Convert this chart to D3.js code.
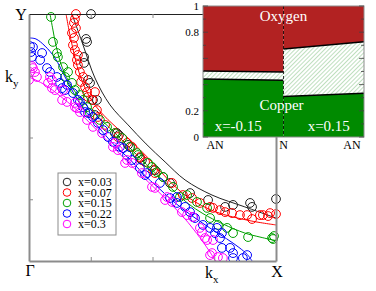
<!DOCTYPE html>
<html>
<head>
<meta charset="utf-8">
<script src="https://cdn.jsdelivr.net/npm/d3@7"></script>
<style>
  body { margin: 0; background: #fff; }
  svg { display: block; font-family: "Liberation Serif", "Times New Roman", serif; }
</style>
</head>
<body>
<svg id="chart" width="376" height="291"></svg>
<script>
// ---------- Data (k in units of pi, Gamma = 0, X / Y = 1) ----------
const dopings = ['x=0.03', 'x=0.07', 'x=0.15', 'x=0.22', 'x=0.3'];
const colors = ['#222222', '#ff0000', '#00a000', '#0000ff', '#ff00ff'];

// fitted Fermi surface lines
const fit003 = [[.174,1.0],[.219,.874],[.267,.741],[.328,.632],[.401,.551],[.474,.474],
  [.551,.401],[.632,.328],[.741,.267],[.874,.219],[1.0,.174]];
const fit007 = [[.150,1.0],[.170,.895],[.206,.753],[.255,.648],[.32,.572],[.385,.513],[.45,.45],
  [.513,.385],[.572,.32],[.648,.255],[.753,.200],[.895,.163],[1.0,.146]];
const fit015 = [[.085,1.0],[.097,.935],[.109,.874],[.134,.785],[.174,.704],[.219,.645],[.267,.596],[.348,.518],[.433,.433],
  [.518,.350],[.596,.275],[.645,.232],[.704,.192],[.785,.150],[.874,.113],[.935,.097],[1.0,.082]];
const fit022 = [[0,.903],[.028,.899],[.065,.870],[.105,.822],[.146,.745],[.198,.650],[.25,.58],[.30,.52],[.35,.465],[.41,.41],
  [.465,.35],[.52,.30],[.58,.245],[.650,.19],[.73,.135],[.80,.09],[.85,.055],[.885,.025],[.903,0]];
const fit030 = [[0,.745],[.065,.713],[.126,.668],[.186,.618],[.25,.555],[.32,.483],[.40,.40],[.483,.32],[.555,.25],[.618,.186],
  [.668,.126],[.713,.065],[.74,.025],[.755,0]];

// measured Fermi momenta
const pts003 = [[.251,1.0],[.231,.899],[.235,.887],[.223,.826],[.223,.802],[.239,.733],[.247,.721],[.259,.652],[.275,.652],[.267,.591],
  [.356,.518],[.364,.510],[.401,.470],[.409,.462],[.449,.417],[.457,.409],[.510,.368],[.543,.340],[.571,.316],[.652,.275],
  [.725,.247],[.794,.219],[.826,.227],[.895,.235],[.903,.219],[1.0,.251]];
const pts007 = [[.190,1.0],[.186,.980],[.182,.964],[.190,.943],[.174,.923],[.182,.903],[.178,.874],[.186,.854],[.198,.834],[.194,.814],
  [.198,.794],[.206,.765],[.219,.745],[.211,.725],[.227,.704],[.235,.684],[.239,.664],[.255,.652],[.267,.684],[.275,.611],
  [.279,.583],[.308,.551],[.348,.518],[.360,.502],[.397,.478],[.417,.462],[.449,.421],[.470,.401],[.502,.368],[.510,.356],
  [.579,.316],[.623,.267],[.660,.255],[.692,.235],[.733,.219],[.745,.215],[.773,.206],[.794,.198],[.822,.194],[.854,.186],
  [.883,.186],[.903,.170],[.935,.186],[.947,.186],[.968,.182],[.976,.194],[1.0,.190]];
const pts015 = [[.089,.988],[.097,.887],[.113,.842],[.117,.826],[.138,.785],[.158,.765],[.146,.745],[.174,.721],[.186,.692],[.206,.672],
  [.219,.652],[.235,.623],[.247,.599],[.287,.571],[.316,.543],[.348,.518],[.377,.498],[.409,.462],[.437,.437],[.441,.429],
  [.482,.397],[.498,.381],[.518,.360],[.543,.340],[.583,.300],[.611,.259],[.640,.267],[.680,.239],[.721,.215],[.733,.174],
  [.765,.146],[.802,.134],[.826,.113],[.887,.097],[.984,.093],[.992,.101],[.988,.089]];
const pts022 = [[.004,.870],[.016,.866],[.008,.846],[.012,.826],[.053,.842],[.045,.814],[.073,.781],[.085,.765],[.113,.745],[.126,.721],
  [.134,.700],[.146,.692],[.154,.713],[.178,.680],[.198,.652],[.206,.644],[.219,.623],[.227,.603],[.239,.599],[.259,.583],
  [.279,.559],[.300,.530],[.320,.502],[.340,.482],[.368,.462],[.381,.457],[.397,.429],[.417,.409],[.449,.377],[.470,.348],
  [.478,.356],[.530,.316],[.571,.255],[.599,.259],[.599,.235],[.632,.219],[.652,.198],[.664,.178],[.672,.174],[.704,.146],
  [.733,.134],[.753,.113],[.761,.134],[.773,.093],[.781,.113],[.781,.053],[.814,.053],[.826,.032],[.826,.012],[.866,.012],[.883,.024]];
const pts030 = [[.012,.789],[.016,.781],[.004,.765],[.024,.765],[.032,.745],[0,.733],[.085,.745],[.093,.733],[.077,.721],[.093,.700],
  [.105,.692],[.138,.692],[.134,.652],[.154,.644],[.186,.640],[.186,.623],[.194,.619],[.206,.603],[.235,.571],[.259,.543],
  [.296,.518],[.348,.478],[.340,.462],[.360,.449],[.397,.409],[.417,.397],[.389,.397],[.457,.356],[.498,.300],[.510,.296],
  [.551,.247],[.559,.259],[.579,.239],[.619,.198],[.640,.186],[.664,.178],[.692,.134],[.700,.117],[.713,.093],[.721,.085],
  [.745,.085],[.741,.032],[.733,.024],[.765,.016],[.785,.012]];

const fits = [fit003, fit007, fit015, fit022, fit030];
const points = [pts003, pts007, pts015, pts022, pts030];

// inset: orbital weight along AN - N - AN (position 0 = AN, 1 = N, 2 = AN)
const insetSides = ['x=-0.15', 'x=0.15'];
const insetPos = [[0, 1], [1, 2]];
const oxygenLow = [[.504, .496], [.672, .727]];   // lower edge of oxygen weight
const copperTop = [[.443, .433], [.310, .334]];   // upper edge of copper weight
const insetYLabels = [0, 0.2, 0.8, 1];
const insetXTicks = [[0.15, 'AN'], [1.0, 'N'], [1.85, 'AN']];

// ---------- Main panel ----------
const svg = d3.select('#chart');
const x = d3.scaleLinear([0, 1], [29, 276]);
const y = d3.scaleLinear([0, 1], [261, 14]);
const gray = '#8c8c8c';

const main = svg.append('g');

// clip to plot area (a little slack so edge circles stay round)
svg.append('defs').append('clipPath').attr('id', 'plotclip')
  .append('rect').attr('x', x(0)).attr('y', y(1) - 8).attr('width', x(1) - x(0) + 6).attr('height', y(0) - y(1) + 8);

const line = d3.line().x(d => x(d[0])).y(d => y(d[1])).curve(d3.curveCatmullRom.alpha(0.5));

const series = main.append('g').attr('clip-path', 'url(#plotclip)');
fits.forEach((f, i) => {
  series.append('path')
    .attr('d', line(f))
    .attr('fill', 'none')
    .attr('stroke', colors[i])
    .attr('stroke-width', 1);
});
points.forEach((p, i) => {
  series.append('g').selectAll('circle')
    .data(p)
    .join('circle')
    .attr('cx', d => x(d[0]))
    .attr('cy', d => y(d[1]))
    .attr('r', 4.4)
    .attr('fill', 'none')
    .attr('stroke', colors[i])
    .attr('stroke-width', 1);
});

// axes (inner ticks, no labels)
const tickVals = [0.25, 0.5, 0.75];
const styleAxis = (g) => {
  g.selectAll('path').attr('stroke', gray).attr('stroke-width', 2);
  g.selectAll('line').attr('stroke', gray).attr('stroke-width', 1);
};
main.append('g').attr('transform', `translate(0,${y(0)})`)
  .call(d3.axisBottom(x).tickValues(tickVals).tickSize(-4).tickSizeOuter(0).tickFormat(''))
  .call(styleAxis);
main.append('g').attr('transform', `translate(${x(0)},0)`)
  .call(d3.axisLeft(y).tickValues(tickVals).tickSize(-4).tickSizeOuter(0).tickFormat(''))
  .call(styleAxis);
main.append('g').attr('transform', `translate(${x(1)},0)`)
  .call(d3.axisRight(y).tickValues([]).tickSizeOuter(0))
  .call(styleAxis);
main.append('g').attr('transform', `translate(0,${y(1)})`)
  .call(d3.axisTop(x).tickValues(tickVals).tickSize(-4).tickSizeOuter(0).tickFormat(''))
  .call(g => {
    g.selectAll('path').attr('stroke', '#222').attr('stroke-width', 1.2);
    g.selectAll('line').attr('stroke', gray);
  });

// corner / axis labels
const big = 16;
svg.append('text').attr('x', 21).attr('y', 20).attr('text-anchor', 'middle').attr('font-size', big).text('Y');
svg.append('text').attr('x', 30).attr('y', 276).attr('text-anchor', 'middle').attr('font-size', big).text('Γ');
svg.append('text').attr('x', 277).attr('y', 277).attr('text-anchor', 'middle').attr('font-size', big).text('X');
const ky = svg.append('text').attr('x', 5).attr('y', 82).attr('font-size', big);
ky.append('tspan').text('k');
ky.append('tspan').attr('font-size', 11).attr('dy', 5).text('y');
const kx = svg.append('text').attr('x', 205).attr('y', 278).attr('font-size', big);
kx.append('tspan').text('k');
kx.append('tspan').attr('font-size', 11).attr('dy', 5).text('x');

// legend
const leg = svg.append('g').attr('transform', 'translate(58,173)');
leg.append('rect').attr('width', 58).attr('height', 62)
  .attr('fill', '#fff').attr('stroke', gray).attr('stroke-width', 1);
dopings.forEach((lab, i) => {
  const row = leg.append('g').attr('transform', `translate(0,${9 + i * 10.5})`);
  row.append('circle').attr('cx', 9).attr('cy', 0).attr('r', 3.8)
    .attr('fill', 'none').attr('stroke', colors[i]).attr('stroke-width', 1);
  row.append('text').attr('x', 20).attr('y', 4).attr('font-size', 12).text(lab);
});

// ---------- Inset ----------
const ix = d3.scaleLinear([0, 2], [203, 364]);
const iy = d3.scaleLinear([0, 1], [137, 6]);
const inset = svg.append('g');

const defs = svg.select('defs');
const pat = defs.append('pattern').attr('id', 'hatch')
  .attr('patternUnits', 'userSpaceOnUse').attr('width', 3).attr('height', 3)
  .attr('patternTransform', 'rotate(45)');
pat.append('rect').attr('width', 3).attr('height', 3).attr('fill', '#fff');
pat.append('line').attr('x1', 0).attr('y1', 0).attr('x2', 0).attr('y2', 3)
  .attr('stroke', '#7fbf7f').attr('stroke-width', 1);

inset.append('rect').attr('x', ix(0)).attr('y', iy(1))
  .attr('width', ix(2) - ix(0)).attr('height', iy(0) - iy(1)).attr('fill', '#fff');

insetPos.forEach((pos, s) => {
  const seg = pos.map((p, k) => ({ p, ox: oxygenLow[s][k], cu: copperTop[s][k] }));
  const area = (lo, hi) => d3.area().x(d => ix(d.p)).y0(d => iy(lo(d))).y1(d => iy(hi(d)))(seg);
  inset.append('path').attr('d', area(d => d.ox, () => 1)).attr('fill', '#b22222');
  inset.append('path').attr('d', area(d => d.cu, d => d.ox)).attr('fill', 'url(#hatch)');
  inset.append('path').attr('d', area(() => 0, d => d.cu)).attr('fill', '#008a00');
  ['ox', 'cu'].forEach(key => {
    inset.append('path')
      .attr('d', d3.line().x(d => ix(d.p)).y(d => iy(d[key]))(seg))
      .attr('fill', 'none').attr('stroke', '#000').attr('stroke-width', 1.5);
  });
  inset.append('text')
    .attr('x', (ix(pos[0]) + ix(pos[1])) / 2 + (s === 0 ? -5 : 5))
    .attr('y', 131).attr('text-anchor', 'middle')
    .attr('font-size', 15).attr('fill', '#fff').text(insetSides[s]);
});

inset.append('line').attr('x1', ix(1)).attr('x2', ix(1)).attr('y1', iy(1)).attr('y2', iy(0))
  .attr('stroke', '#000').attr('stroke-width', 0.8).attr('stroke-dasharray', '3,2');

inset.append('text').attr('x', ix(1)).attr('y', 21).attr('text-anchor', 'middle')
  .attr('font-size', 15).attr('fill', '#fff').text('Oxygen');
inset.append('text').attr('x', ix(1) - 2).attr('y', 110).attr('text-anchor', 'middle')
  .attr('font-size', 15).attr('fill', '#fff').text('Copper');

// inset frame and ticks
inset.append('rect').attr('x', ix(0)).attr('y', iy(1))
  .attr('width', ix(2) - ix(0)).attr('height', iy(0) - iy(1))
  .attr('fill', 'none').attr('stroke', gray).attr('stroke-width', 1);
const minor = d3.range(0, 1.01, 0.1);
inset.append('g').selectAll('line.l').data(minor).join('line')
  .attr('x1', ix(0)).attr('x2', d => ix(0) + (Math.round(d * 10) % 2 === 0 ? 5 : 3))
  .attr('y1', d => iy(d)).attr('y2', d => iy(d)).attr('stroke', '#444').attr('stroke-width', 0.8);
inset.append('g').selectAll('line.r').data(minor).join('line')
  .attr('x1', ix(2)).attr('x2', d => ix(2) - (Math.round(d * 10) % 2 === 0 ? 5 : 3))
  .attr('y1', d => iy(d)).attr('y2', d => iy(d)).attr('stroke', '#444').attr('stroke-width', 0.8);

inset.append('g').selectAll('text').data(insetYLabels).join('text')
  .attr('x', ix(0) - 4).attr('y', d => iy(d) + 4).attr('text-anchor', 'end')
  .attr('font-size', 11).text(d => d);
inset.append('g').selectAll('text').data(insetXTicks).join('text')
  .attr('x', d => ix(d[0])).attr('y', 149).attr('text-anchor', 'middle')
  .attr('font-size', 12).text(d => d[1]);
</script>
</body>
</html>
